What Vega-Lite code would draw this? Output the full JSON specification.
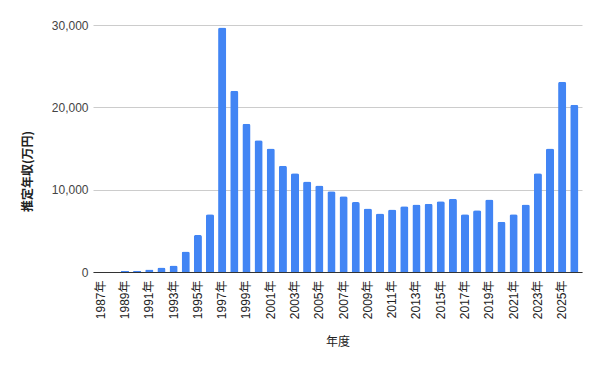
{
  "$schema": "https://vega.github.io/schema/vega-lite/v6.json",
  "width": 489,
  "height": 247,
  "autosize": {"type": "none"},
  "padding": {"left": 93, "top": 25, "right": 18, "bottom": 97},
  "background": "white",
  "data": {
    "values": [
      {"年度": "1987年", "推定年収": 0},
      {"年度": "1988年", "推定年収": 0},
      {"年度": "1989年", "推定年収": 120},
      {"年度": "1990年", "推定年収": 150},
      {"年度": "1991年", "推定年収": 300},
      {"年度": "1992年", "推定年収": 550},
      {"年度": "1993年", "推定年収": 800},
      {"年度": "1994年", "推定年収": 2500},
      {"年度": "1995年", "推定年収": 4500},
      {"年度": "1996年", "推定年収": 7000},
      {"年度": "1997年", "推定年収": 29700},
      {"年度": "1998年", "推定年収": 22000},
      {"年度": "1999年", "推定年収": 18000},
      {"年度": "2000年", "推定年収": 16000},
      {"年度": "2001年", "推定年収": 15000},
      {"年度": "2002年", "推定年収": 12900},
      {"年度": "2003年", "推定年収": 12000},
      {"年度": "2004年", "推定年収": 11000},
      {"年度": "2005年", "推定年収": 10500},
      {"年度": "2006年", "推定年収": 9800},
      {"年度": "2007年", "推定年収": 9200},
      {"年度": "2008年", "推定年収": 8500},
      {"年度": "2009年", "推定年収": 7700},
      {"年度": "2010年", "推定年収": 7100},
      {"年度": "2011年", "推定年収": 7600},
      {"年度": "2012年", "推定年収": 8000},
      {"年度": "2013年", "推定年収": 8200},
      {"年度": "2014年", "推定年収": 8300},
      {"年度": "2015年", "推定年収": 8600},
      {"年度": "2016年", "推定年収": 8900},
      {"年度": "2017年", "推定年収": 7000},
      {"年度": "2018年", "推定年収": 7500},
      {"年度": "2019年", "推定年収": 8800},
      {"年度": "2020年", "推定年収": 6100},
      {"年度": "2021年", "推定年収": 7000},
      {"年度": "2022年", "推定年収": 8200},
      {"年度": "2023年", "推定年収": 12000},
      {"年度": "2024年", "推定年収": 15000},
      {"年度": "2025年", "推定年収": 23100},
      {"年度": "2026年", "推定年収": 20300}
    ]
  },
  "mark": {
    "type": "bar",
    "color": "#4285F4",
    "cornerRadiusTopLeft": 2,
    "cornerRadiusTopRight": 2
  },
  "encoding": {
    "x": {
      "field": "年度",
      "type": "ordinal",
      "sort": null,
      "scale": {"paddingInner": 0.33, "paddingOuter": 0.3},
      "axis": {
        "title": "年度",
        "values": ["1987年","1989年","1991年","1993年","1995年","1997年","1999年","2001年","2003年","2005年","2007年","2009年","2011年","2013年","2015年","2017年","2019年","2021年","2023年","2025年"],
        "labelAngle": -90,
        "labelFont": "Liberation Sans, Noto Sans CJK JP",
        "labelFontSize": 12,
        "labelColor": "#222222",
        "labelPadding": 8,
        "ticks": false,
        "domainColor": "#333333",
        "titleFont": "Noto Sans CJK JP",
        "titleFontSize": 12,
        "titleFontWeight": "normal",
        "titleColor": "#222222",
        "titlePadding": 18
      }
    },
    "y": {
      "field": "推定年収",
      "type": "quantitative",
      "scale": {"domain": [0, 30000], "nice": false},
      "axis": {
        "title": "推定年収(万円)",
        "values": [0, 10000, 20000, 30000],
        "format": ",d",
        "labelFont": "Liberation Sans",
        "labelFontSize": 12,
        "labelColor": "#444444",
        "labelPadding": 5,
        "ticks": false,
        "domain": false,
        "gridColor": "#cccccc",
        "titleFont": "Noto Sans CJK JP",
        "titleFontSize": 12,
        "titleFontWeight": "bold",
        "titleColor": "#222222",
        "titlePadding": 17,
        "titleY": 146
      }
    }
  },
  "config": {
    "view": {"stroke": null}
  }
}
